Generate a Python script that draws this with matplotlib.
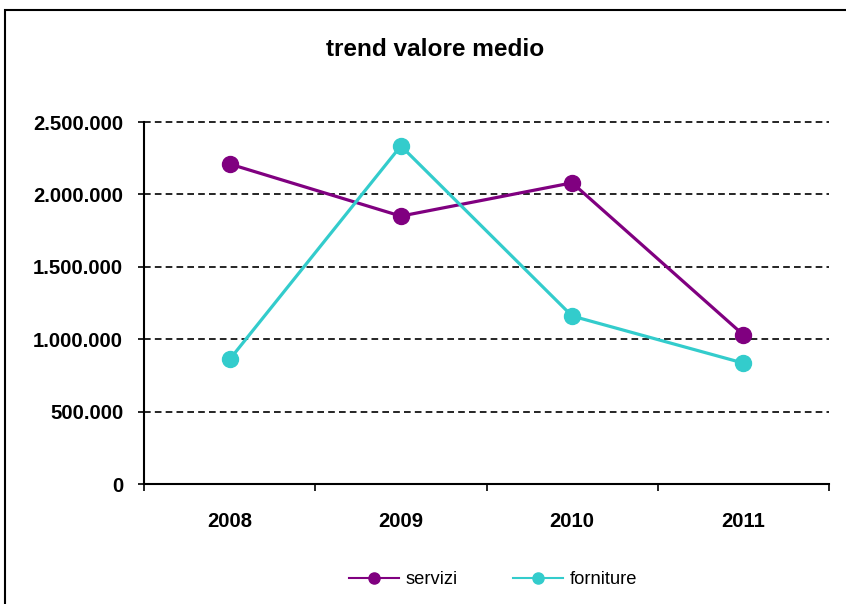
import matplotlib.pyplot as plt
from matplotlib.lines import Line2D
from matplotlib.patches import Rectangle
from matplotlib.ticker import FuncFormatter

# data
years = ["2008", "2009", "2010", "2011"]
servizi = [2210000, 1850000, 2080000, 1030000]
forniture = [860000, 2335000, 1160000, 835000]
y_ticks = [0, 500000, 1000000, 1500000, 2000000, 2500000]

col_serv = "#800080"
col_forn = "#33CCCC"

plt.rcParams["font.family"] = ["Liberation Sans", "DejaVu Sans"]

fig = plt.figure(figsize=(8.46, 6.04), dpi=100)
ax = fig.add_axes([144 / 846, 120 / 604, 685 / 846, 362 / 604])

x = list(range(len(years)))
ax.plot(x, servizi, color=col_serv, lw=2.3, marker="o", ms=11.5, zorder=3)
ax.plot(x, forniture, color=col_forn, lw=2.3, marker="o", ms=11.5, zorder=3)

ax.set_xlim(-0.5, len(years) - 0.5)
ax.set_ylim(0, 2500000)
ax.set_yticks(y_ticks)
ax.yaxis.set_major_formatter(FuncFormatter(lambda v, p: f"{int(v):,}".replace(",", ".")))
ax.set_xticks([i - 0.5 for i in range(len(years) + 1)])
ax.set_xticklabels([])
ax.set_xticks(x, minor=True)
ax.set_xticklabels(years, minor=True)

ax.tick_params(axis="y", length=4, width=1.2, pad=11, labelsize=14.6)
ax.tick_params(axis="x", which="major", length=5, width=1.2, direction="out")
ax.tick_params(axis="x", which="minor", length=0, pad=20, labelsize=14.6)
for lab in ax.get_yticklabels() + ax.get_xticklabels(minor=True):
    lab.set_fontweight("bold")

ax.grid(axis="y", color="black", ls=(0, (4, 2.5)), lw=1.2)
for gl in ax.yaxis.get_gridlines():
    gl.set_clip_on(False)
ax.set_axisbelow(True)
for s in ["top", "right"]:
    ax.spines[s].set_visible(False)
for s in ["left", "bottom"]:
    ax.spines[s].set_linewidth(1.5)

fig.text(0.514, 1 - 50 / 604, "trend valore medio", ha="center", va="center",
         fontsize=17.6, fontweight="bold")

handles = [
    Line2D([], [], color=col_serv, lw=1.5, marker="o", ms=8),
    Line2D([], [], color=col_forn, lw=1.5, marker="o", ms=8),
]
fig.legend(handles, ["servizi", "forniture"], loc="center", bbox_to_anchor=(0.583, 1 - 580 / 604),
           ncol=2, frameon=False, fontsize=13.2, handlelength=2.7, handletextpad=0.4,
           columnspacing=3.0)

# outer chart frame
fig.patches.append(Rectangle((5 / 846, -0.1), 1.1, 1 - 10 / 604 + 0.1, transform=fig.transFigure,
                             fill=False, ec="black", lw=1.5))

fig.savefig("out.png", dpi=100)
